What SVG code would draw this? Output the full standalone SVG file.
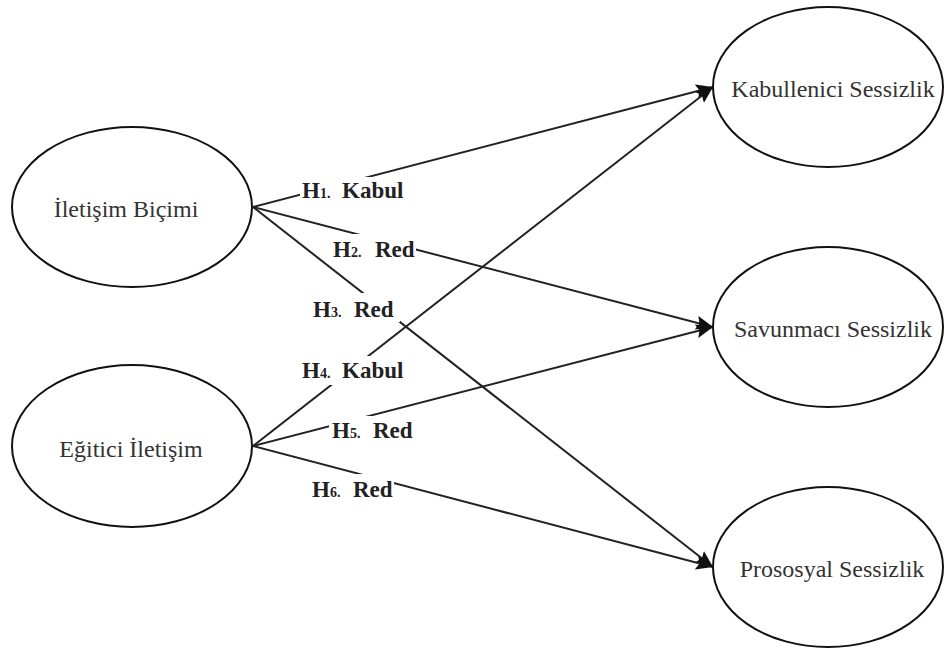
<svg xmlns="http://www.w3.org/2000/svg" width="944" height="651" viewBox="0 0 944 651">
<style>
.node ellipse{fill:#fff;stroke:#111;stroke-width:2}
.node text{font-family:"Liberation Serif","Times New Roman",serif;font-size:24px;fill:#333;text-anchor:middle}
.edge{stroke:#222;stroke-width:2;fill:none;marker-end:url(#arr)}
.lblbg{fill:#fff;stroke:none}
.lbl{font-family:"Liberation Serif","Times New Roman",serif;font-size:23px;font-weight:bold;fill:#222}
.sub{font-size:14px}
</style>
<defs>
<marker id="arr" markerUnits="userSpaceOnUse" markerWidth="18" markerHeight="14" refX="17" refY="7" orient="auto">
<path d="M0,0 L17,7 L0,14 L3,7 z" fill="#111"/>
</marker>
</defs>
<rect width="944" height="651" fill="#fff"/>
<g id="connectors">
<line class="edge" x1="253" y1="207" x2="713" y2="87"/>
<line class="edge" x1="253" y1="207" x2="713" y2="327"/>
<line class="edge" x1="253" y1="207" x2="713" y2="567"/>
<line class="edge" x1="253" y1="446" x2="713" y2="87"/>
<line class="edge" x1="253" y1="446" x2="713" y2="327"/>
<line class="edge" x1="253" y1="446" x2="713" y2="567"/>
<rect class="lblbg" x="300" y="177" width="106" height="25"/>
<rect class="lblbg" x="330" y="234" width="86" height="27"/>
<rect class="lblbg" x="311" y="293" width="89" height="29"/>
<rect class="lblbg" x="300" y="356" width="106" height="29"/>
<rect class="lblbg" x="329" y="416" width="87" height="28"/>
<rect class="lblbg" x="310" y="474" width="84" height="27"/>
<text class="lbl" y="198"><tspan x="302">H</tspan><tspan class="sub">1.</tspan><tspan x="342">Kabul</tspan></text>
<text class="lbl" y="257"><tspan x="333">H</tspan><tspan class="sub">2.</tspan><tspan x="375">Red</tspan></text>
<text class="lbl" y="317"><tspan x="313">H</tspan><tspan class="sub">3.</tspan><tspan x="354">Red</tspan></text>
<text class="lbl" y="378"><tspan x="302">H</tspan><tspan class="sub">4.</tspan><tspan x="342">Kabul</tspan></text>
<text class="lbl" y="438"><tspan x="332">H</tspan><tspan class="sub">5.</tspan><tspan x="373">Red</tspan></text>
<text class="lbl" y="497"><tspan x="312">H</tspan><tspan class="sub">6.</tspan><tspan x="353">Red</tspan></text>
</g>
<g id="iletisim-bicimi" class="node">
<ellipse cx="132" cy="207" rx="120" ry="80"/>
<text x="126" y="217">İletişim Biçimi</text>
</g>
<g id="egitici-iletisim" class="node">
<ellipse cx="132" cy="446" rx="120" ry="81"/>
<text x="131" y="457">Eğitici İletişim</text>
</g>
<g id="kabullenici-sessizlik" class="node">
<ellipse cx="828" cy="87" rx="115" ry="80"/>
<text x="833" y="97">Kabullenici Sessizlik</text>
</g>
<g id="savunmaci-sessizlik" class="node">
<ellipse cx="828" cy="327" rx="115" ry="80"/>
<text x="833" y="337">Savunmacı Sessizlik</text>
</g>
<g id="prososyal-sessizlik" class="node">
<ellipse cx="828" cy="567" rx="115" ry="80"/>
<text x="832" y="577">Prososyal Sessizlik</text>
</g>
</svg>
